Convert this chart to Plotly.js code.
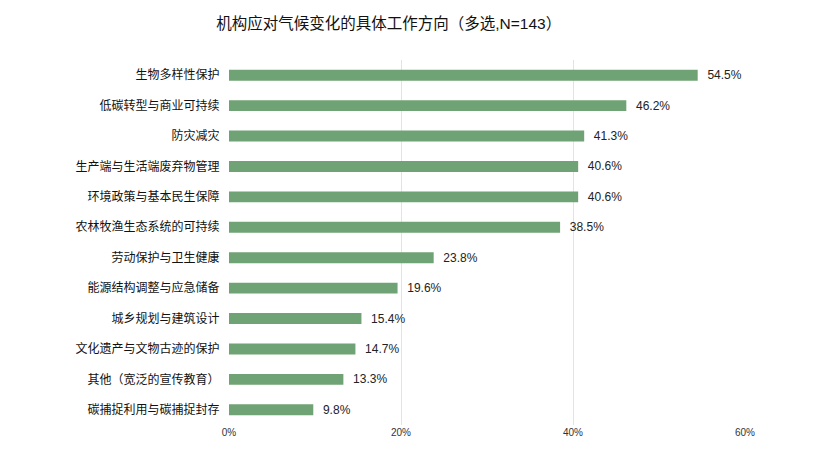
<!DOCTYPE html>
<html>
<head>
<meta charset="utf-8">
<script src="https://cdn.plot.ly/plotly-3.0.1.min.js"></script>
<style>html,body{margin:0;padding:0;background:#fff;}#chart{width:820px;height:468px;}</style>
</head>
<body>
<div id="chart"></div>
<script>
const categories = [
  "生物多样性保护",
  "低碳转型与商业可持续",
  "防灾减灾",
  "生产端与生活端废弃物管理",
  "环境政策与基本民生保障",
  "农林牧渔生态系统的可持续",
  "劳动保护与卫生健康",
  "能源结构调整与应急储备",
  "城乡规划与建筑设计",
  "文化遗产与文物古迹的保护",
  "其他（宽泛的宣传教育）",
  "碳捕捉利用与碳捕捉封存"
];
const values = [54.5, 46.2, 41.3, 40.6, 40.6, 38.5, 23.8, 19.6, 15.4, 14.7, 13.3, 9.8];
const tickVals = [0, 20, 40, 60];
const tickText = ["0%", "20%", "40%", "60%"];
const titleText = "机构应对气候变化的具体工作方向（多选,N=143）";

const FONT = "Liberation Sans, Helvetica, Arial, 'Noto Sans CJK SC', sans-serif";

const trace = {
  type: "bar",
  orientation: "h",
  y: categories,
  x: values,
  marker: {color: "#6fa274"},
  text: values.map(v => "  " + v.toFixed(1) + "%"),
  textposition: "outside",
  constraintext: "none",
  textfont: {family: FONT, size: 12, color: "#222"},
  cliponaxis: false,
  hoverinfo: "none"
};

const layout = {
  width: 820, height: 468,
  margin: {l: 229, r: 75, t: 60, b: 43},
  paper_bgcolor: "#fff", plot_bgcolor: "#fff",
  title: {text: titleText, x: 0.474, xref: "container", xanchor: "center", y: 0.95, yref: "container", yanchor: "middle",
          font: {family: FONT, size: 15.5, color: "#111"}},
  bargap: 0.64,
  showlegend: false,
  xaxis: {
    range: [0, 60],
    tickvals: tickVals, ticktext: tickText,
    showgrid: true, gridcolor: "#e3e3e3", gridwidth: 1,
    zeroline: false, showline: false,
    ticks: "", tickfont: {family: FONT, size: 10, color: "#333"},
    fixedrange: true
  },
  yaxis: {
    autorange: "reversed",
    showgrid: false, zeroline: false, showline: false,
    ticks: "outside", ticklen: 6, tickcolor: "rgba(0,0,0,0)",
    tickfont: {family: FONT, size: 12, color: "#111"},
    fixedrange: true
  }
};

Plotly.newPlot("chart", [trace], layout, {displayModeBar: false, staticPlot: true});
</script>
</body>
</html>
